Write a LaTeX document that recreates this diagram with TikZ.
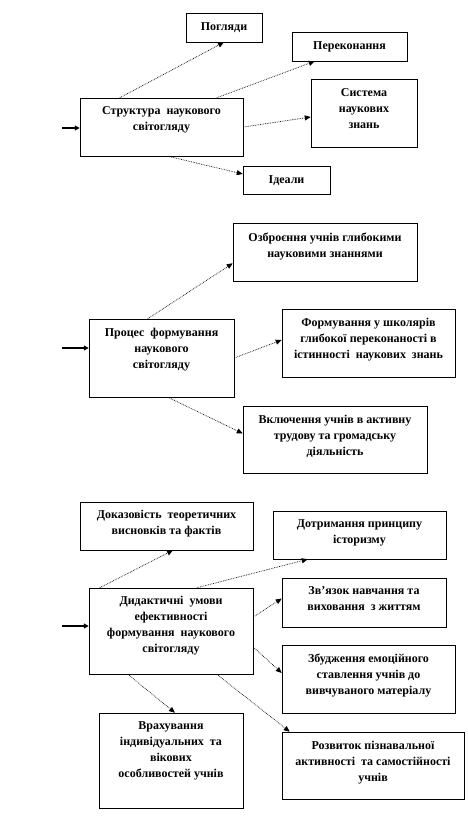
\documentclass[tikz,border=0pt]{standalone}
\usepackage{fontspec}
\setmainfont{Liberation Serif}
\usetikzlibrary{arrows.meta,positioning}

\begin{document}
\begin{tikzpicture}[x=1pt,y=-1pt,
  box/.style={rectangle,draw=black,line width=0.5pt,fill=white,inner sep=0pt},
  txt/.style={anchor=north,align=center,inner sep=0pt,
              font=\bfseries\fontsize{12}{16}\selectfont},
  link/.style={densely dotted,line width=0.7pt,
               -{Triangle[length=6pt,width=5pt]}},
  feed/.style={line width=1.3pt,-{Triangle[length=5pt,width=5pt]}}
]
\useasboundingbox (0,0) rectangle (467,822);

% --- Block 1: structure of the world view
\node[box,minimum width=163pt,minimum height=58pt] (s1) at (161.5,127) {};
\node[txt] (s1t) at ([yshift=-9pt] s1.north) {Структура\ \ наукового\\світогляду};
\node[box,minimum width=76pt,minimum height=29pt] (a1) at (224,27.5) {};
\node[txt] (a1t) at ([yshift=-10pt] a1.north) {Погляди};
\node[box,minimum width=115pt,minimum height=29pt] (a2) at (349.5,46.5) {};
\node[txt] (a2t) at ([yshift=-10pt] a2.north) {Переконання};
\node[box,minimum width=106pt,minimum height=68pt] (a3) at (364,113) {};
\node[txt] (a3t) at ([yshift=-10pt] a3.north) {Система\\наукових\\знань};
\node[box,minimum width=87pt,minimum height=28pt] (a4) at (286.5,180) {};
\node[txt] (a4t) at ([yshift=-10pt] a4.north) {Ідеали};

\draw[link] ([xshift=40pt] s1.north west) -- (a1.south);
\draw[link] ([xshift=137pt] s1.north west) -- ([xshift=23pt] a2.south west);
\draw[link] (s1.east) -- ([yshift=-4pt] a3.west);
\draw[link] ([xshift=6.5pt] s1.south) -- ([yshift=6pt] a4.west);
\coordinate (in1) at (62,128);
\draw[feed] (in1) -- (in1 -| s1.west);

% --- Block 2: forming process
\node[box,minimum width=145pt,minimum height=78pt] (p) at (161.5,358) {};
\node[txt] (pt) at ([yshift=-9pt] p.north) {Процес\ \ формування\\наукового\\світогляду};
\node[box,minimum width=184pt,minimum height=58pt] (b1) at (325,252) {};
\node[txt] (b1t) at ([yshift=-10pt] b1.north) {Озброєння учнів глибокими\\науковими знаннями};
\node[box,minimum width=173pt,minimum height=68pt] (b2) at (368.5,343) {};
\node[txt] (b2t) at ([yshift=-9pt] b2.north) {Формування у школярів\\глибокої переконаності в\\істинності\ \ наукових\ \ знань};
\node[box,minimum width=184pt,minimum height=67pt] (b3) at (335,439.5) {};
\node[txt] (b3t) at ([yshift=-9pt] b3.north) {Включення учнів в активну\\трудову та громадську\\діяльність};

\draw[link] ([xshift=59pt] p.north west) -- ([yshift=18pt] b1.south west);
\draw[link] (p.east) -- ([yshift=3pt] b2.west);
\draw[link] ([xshift=6.5pt] p.south) -- ([yshift=6pt] b3.west);
\coordinate (in2) at (62,348);
\draw[feed] (in2) -- (in2 -| p.west);

% --- Block 3: didactic conditions
\node[box,minimum width=164pt,minimum height=86pt] (d) at (171,631) {};
\node[txt] (dt) at ([yshift=-8pt] d.north) {Дидактичні\ \ умови\\ефективності\\формування\ \ наукового\\світогляду};
\node[box,minimum width=173pt,minimum height=48pt] (c1) at (166.5,526) {};
\node[txt] (c1t) at ([yshift=-8pt] c1.north) {Доказовість\ \ теоретичних\\висновків та фактів};
\node[box,minimum width=173pt,minimum height=48pt] (c2) at (359.5,535) {};
\node[txt] (c2t) at ([yshift=-9pt] c2.north) {Дотримання принципу\\історизму};
\node[box,minimum width=164pt,minimum height=49pt] (c3) at (364,602.5) {};
\node[txt] (c3t) at ([yshift=-9pt] c3.north) {Зв’язок навчання та\\виховання\ \ з життям};
\node[box,minimum width=173pt,minimum height=68pt] (c4) at (368.5,679) {};
\node[txt] (c4t) at ([yshift=-9pt] c4.north) {Збудження емоційного\\ставлення учнів до\\вивчуваного матеріалу};
\node[box,minimum width=144pt,minimum height=95pt] (c5) at (171,760.5) {};
\node[txt] (c5t) at ([yshift=-9pt] c5.north) {Врахування\\індивідуальних\ \ та\\вікових\\особливостей учнів};
\node[box,minimum width=182pt,minimum height=67pt] (c6) at (373,765.5) {};
\node[txt] (c6t) at ([yshift=-9pt] c6.north) {Розвиток пізнавальної\\активності\ \ та самостійності\\учнів};

\draw[link] ([xshift=11pt] d.north west) -- ([xshift=6.5pt] c1.south);
\draw[link] ([xshift=108pt] d.north west) -- ([xshift=35pt] c2.south west);
\draw[link] ([yshift=14pt] d.east) -- ([yshift=4pt] c3.west);
\draw[link] ([yshift=-16pt] d.east) -- ([yshift=6pt] c4.west);
\draw[link] ([xshift=39pt] d.south west) -- ([xshift=4pt] c5.north);
\draw[link] ([xshift=128pt] d.south west) -- ([xshift=8pt] c6.north west);
\coordinate (in3) at (62,626);
\draw[feed] (in3) -- (in3 -| d.west);
\end{tikzpicture}
\end{document}
